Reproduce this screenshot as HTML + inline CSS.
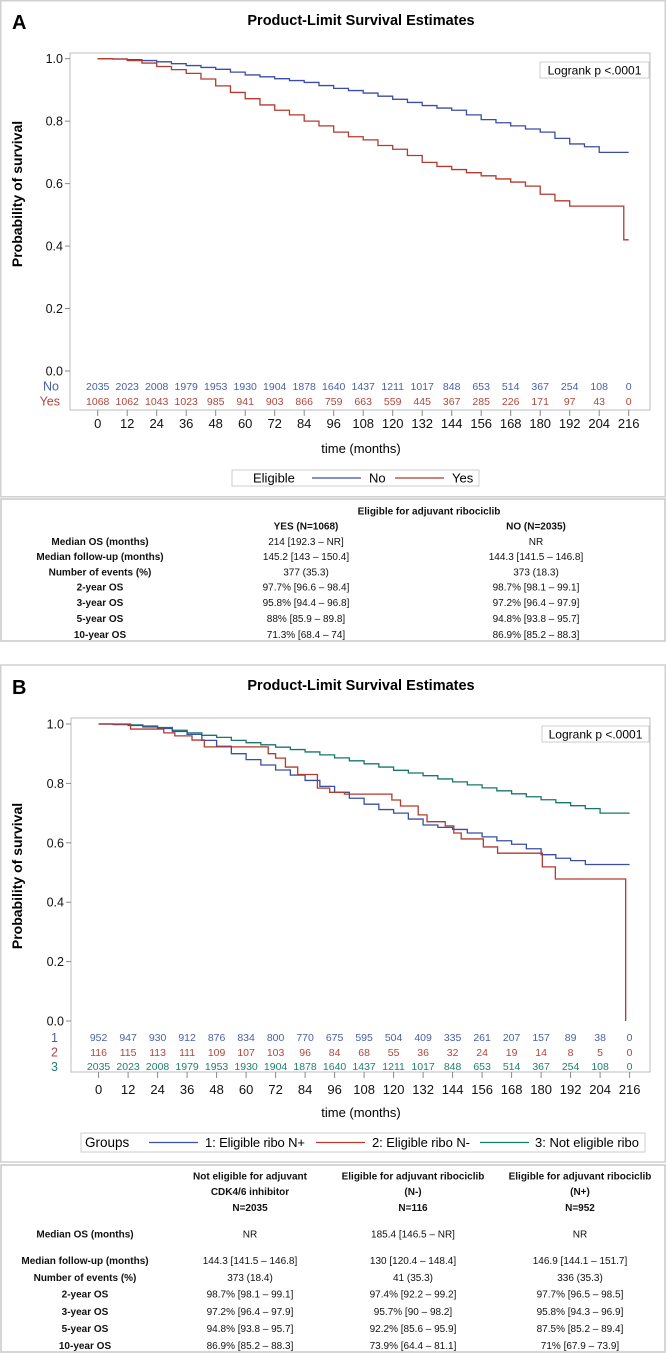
<!DOCTYPE html>
<html><head><meta charset="utf-8">
<style>
html,body{margin:0;padding:0;background:#fff;}
#page{position:relative;width:666px;height:1353px;overflow:hidden;}
svg text{font-family:"Liberation Sans",Arial,sans-serif;}
.tb{font-size:10px;fill:#111;}
.b{font-weight:bold;}
</style></head>
<body>
<div id="page">
<svg id="svg" width="666" height="1353" viewBox="0 0 666 1353" xmlns="http://www.w3.org/2000/svg">
  <rect x="0.75" y="0.75" width="664.5" height="496" fill="none" stroke="#d0d0d0" stroke-width="1.5"/>
  <rect x="1" y="499" width="664" height="142" fill="none" stroke="#c8c8c8" stroke-width="1.5"/>
  <rect x="0.75" y="665" width="664.5" height="497" fill="none" stroke="#d0d0d0" stroke-width="1.5"/>
  <rect x="1" y="1165" width="664" height="187" fill="none" stroke="#c8c8c8" stroke-width="1.5"/>

  <text x="12" y="29" font-size="20" font-weight="bold">A</text>
  <text x="361" y="25" font-size="14.5" font-weight="bold" text-anchor="middle">Product-Limit Survival Estimates</text>
  <text transform="translate(22,194) rotate(-90)" font-size="14" font-weight="bold" text-anchor="middle">Probability of survival</text>
  <text x="361" y="453" font-size="13" text-anchor="middle">time (months)</text>
  <rect x="540" y="62" width="109" height="16" fill="#fff" stroke="#ccc"/>
  <text x="594.5" y="74.5" font-size="12" text-anchor="middle">Logrank p &lt;.0001</text>
  <g>
    <rect x="232" y="470" width="247" height="16" fill="#fff" stroke="#ccc"/>
    <text x="253" y="482.5" font-size="13">Eligible</text>
    <line x1="312" y1="478" x2="361" y2="478" stroke="#3a4ea5" stroke-width="1.2"/>
    <text x="369" y="482.5" font-size="13">No</text>
    <line x1="395" y1="478" x2="444" y2="478" stroke="#b23a2f" stroke-width="1.2"/>
    <text x="452" y="482.5" font-size="13">Yes</text>
  </g>
  <text x="59" y="390.5" font-size="12.5" fill="#4a5fa8" text-anchor="end">No</text>
  <text x="60" y="405.5" font-size="12.5" fill="#b0463c" text-anchor="end">Yes</text>

  <g class="tb">
    <text x="429" y="514.5" text-anchor="middle" class="b">Eligible for adjuvant ribociclib</text>
    <text x="306" y="529.5" text-anchor="middle" class="b">YES (N=1068)</text>
    <text x="536" y="529.5" text-anchor="middle" class="b">NO (N=2035)</text>
    <g text-anchor="middle" class="b">
      <text x="100" y="545">Median OS (months)</text>
      <text x="100" y="560">Median follow-up (months)</text>
      <text x="100" y="575.5">Number of events (%)</text>
      <text x="100" y="590.5">2-year OS</text>
      <text x="100" y="606">3-year OS</text>
      <text x="100" y="622">5-year OS</text>
      <text x="100" y="638">10-year OS</text>
    </g>
    <g text-anchor="middle">
      <text x="306" y="545">214 [192.3 – NR]</text>
      <text x="306" y="560">145.2 [143 – 150.4]</text>
      <text x="306" y="575.5">377 (35.3)</text>
      <text x="306" y="590.5">97.7% [96.6 – 98.4]</text>
      <text x="306" y="606">95.8% [94.4 – 96.8]</text>
      <text x="306" y="622">88% [85.9 – 89.8]</text>
      <text x="306" y="638">71.3% [68.4 – 74]</text>
      <text x="536" y="545">NR</text>
      <text x="536" y="560">144.3 [141.5 – 146.8]</text>
      <text x="536" y="575.5">373 (18.3)</text>
      <text x="536" y="590.5">98.7% [98.1 – 99.1]</text>
      <text x="536" y="606">97.2% [96.4 – 97.9]</text>
      <text x="536" y="622">94.8% [93.8 – 95.7]</text>
      <text x="536" y="638">86.9% [85.2 – 88.3]</text>
    </g>
  </g>

  <text x="12" y="694" font-size="20" font-weight="bold">B</text>
  <text x="361" y="690" font-size="14.5" font-weight="bold" text-anchor="middle">Product-Limit Survival Estimates</text>
  <text transform="translate(22,876) rotate(-90)" font-size="14" font-weight="bold" text-anchor="middle">Probability of survival</text>
  <text x="361" y="1117" font-size="13" text-anchor="middle">time (months)</text>
  <rect x="542" y="726" width="107" height="16" fill="#fff" stroke="#ccc"/>
  <text x="595.5" y="738.5" font-size="12" text-anchor="middle">Logrank p &lt;.0001</text>
  <g>
    <rect x="81" y="1133" width="564" height="19" fill="#fff" stroke="#ccc"/>
    <text x="85" y="1147" font-size="13.5">Groups</text>
    <line x1="149" y1="1142.5" x2="198" y2="1142.5" stroke="#3a4ea5" stroke-width="1.2"/>
    <text x="205" y="1147" font-size="13" textLength="100">1: Eligible ribo N+</text>
    <line x1="316" y1="1142.5" x2="365" y2="1142.5" stroke="#b23a2f" stroke-width="1.2"/>
    <text x="372" y="1147" font-size="13" textLength="98">2: Eligible ribo N-</text>
    <line x1="480" y1="1142.5" x2="529" y2="1142.5" stroke="#16786b" stroke-width="1.2"/>
    <text x="535" y="1147" font-size="13" textLength="104">3: Not eligible ribo</text>
  </g>
  <text x="58" y="1042" font-size="12.5" fill="#4a5fa8" text-anchor="end">1</text>
  <text x="58" y="1056.5" font-size="12.5" fill="#b0463c" text-anchor="end">2</text>
  <text x="58" y="1071" font-size="12.5" fill="#1f8070" text-anchor="end">3</text>

  <g class="tb">
    <g text-anchor="middle" class="b">
      <text x="250" y="1179.5">Not eligible for adjuvant</text>
      <text x="250" y="1195">CDK4/6 inhibitor</text>
      <text x="250" y="1211">N=2035</text>
      <text x="413" y="1179.5">Eligible for adjuvant ribociclib</text>
      <text x="413" y="1195">(N-)</text>
      <text x="413" y="1211">N=116</text>
      <text x="580" y="1179.5">Eligible for adjuvant ribociclib</text>
      <text x="580" y="1195">(N+)</text>
      <text x="580" y="1211">N=952</text>
      <text x="85" y="1237.5">Median OS (months)</text>
      <text x="85" y="1264">Median follow-up (months)</text>
      <text x="85" y="1281">Number of events (%)</text>
      <text x="85" y="1297.5">2-year OS</text>
      <text x="85" y="1315">3-year OS</text>
      <text x="85" y="1332">5-year OS</text>
      <text x="85" y="1349">10-year OS</text>
    </g>
    <g text-anchor="middle">
      <text x="250" y="1237.5">NR</text>
      <text x="250" y="1264">144.3 [141.5 – 146.8]</text>
      <text x="250" y="1281">373 (18.4)</text>
      <text x="250" y="1297.5">98.7% [98.1 – 99.1]</text>
      <text x="250" y="1315">97.2% [96.4 – 97.9]</text>
      <text x="250" y="1332">94.8% [93.8 – 95.7]</text>
      <text x="250" y="1349">86.9% [85.2 – 88.3]</text>
      <text x="413" y="1237.5">185.4 [146.5 – NR]</text>
      <text x="413" y="1264">130 [120.4 – 148.4]</text>
      <text x="413" y="1281">41 (35.3)</text>
      <text x="413" y="1297.5">97.4% [92.2 – 99.2]</text>
      <text x="413" y="1315">95.7% [90 – 98.2]</text>
      <text x="413" y="1332">92.2% [85.6 – 95.9]</text>
      <text x="413" y="1349">73.9% [64.4 – 81.1]</text>
      <text x="580" y="1237.5">NR</text>
      <text x="580" y="1264">146.9 [144.1 – 151.7]</text>
      <text x="580" y="1281">336 (35.3)</text>
      <text x="580" y="1297.5">97.7% [96.5 – 98.5]</text>
      <text x="580" y="1315">95.8% [94.3 – 96.9]</text>
      <text x="580" y="1332">87.5% [85.2 – 89.4]</text>
      <text x="580" y="1349">71% [67.9 – 73.9]</text>
    </g>
  </g>
  <g id="chartA"></g>
  <g id="chartB"></g>
</svg>
</div>
<script>
const xTicks = [0,12,24,36,48,60,72,84,96,108,120,132,144,156,168,180,192,204,216];
const yTicks = [0,0.2,0.4,0.6,0.8,1.0];
const yTickLabels = ["0.0","0.2","0.4","0.6","0.8","1.0"];
const riskANo  = [2035,2023,2008,1979,1953,1930,1904,1878,1640,1437,1211,1017,848,653,514,367,254,108,0];
const riskAYes = [1068,1062,1043,1023,985,941,903,866,759,663,559,445,367,285,226,171,97,43,0];
const aNoTimes  = [0,6,12,18,24,30,36,42,48,54,60,66,72,78,84,90,96,102,108,114,120,126,132,138,144,150,156,162,168,174,180,186,192,198,204,216];
const aNoSurv   = [1,0.999,0.997,0.994,0.99,0.984,0.978,0.972,0.966,0.957,0.948,0.942,0.936,0.93,0.924,0.914,0.905,0.898,0.89,0.88,0.87,0.86,0.85,0.842,0.835,0.82,0.805,0.795,0.785,0.775,0.765,0.745,0.727,0.718,0.70,0.70];
const aYesTimes = [0,6,12,18,24,30,36,42,48,54,60,66,72,78,84,90,96,102,108,114,120,126,132,138,144,150,156,162,168,174,180,186,192,214,216];
const aYesSurv  = [1,0.999,0.994,0.986,0.975,0.965,0.953,0.935,0.913,0.892,0.872,0.852,0.835,0.82,0.80,0.785,0.765,0.75,0.74,0.722,0.71,0.69,0.668,0.655,0.645,0.635,0.625,0.615,0.605,0.592,0.566,0.545,0.528,0.42,0.42];
const riskB1 = [952,947,930,912,876,834,800,770,675,595,504,409,335,261,207,157,89,38,0];
const riskB2 = [116,115,113,111,109,107,103,96,84,68,55,36,32,24,19,14,8,5,0];
const riskB3 = [2035,2023,2008,1979,1953,1930,1904,1878,1640,1437,1211,1017,848,653,514,367,254,108,0];
const b1Times = [0,6,12,18,24,30,36,42,48,54,60,66,72,78,84,90,96,102,108,114,120,126,132,138,144,150,156,162,168,174,180,186,192,198,216];
const b1Surv  = [1,0.998,0.995,0.99,0.985,0.975,0.965,0.945,0.925,0.9,0.88,0.862,0.845,0.828,0.81,0.79,0.77,0.75,0.73,0.712,0.70,0.68,0.66,0.652,0.645,0.633,0.62,0.607,0.595,0.58,0.56,0.548,0.54,0.527,0.527];
const b2Times = [0,13,26.5,31,38,43,69,72,76,81,89,94,100,119.3,122.8,130,133.6,141,144.5,147.5,156.5,162.3,180.5,185.8,214.4];
const b2Surv  = [1,0.983,0.97,0.96,0.946,0.923,0.90,0.885,0.855,0.83,0.784,0.77,0.764,0.744,0.724,0.694,0.671,0.657,0.633,0.613,0.586,0.565,0.519,0.478,0];
const b3Times = [0,6,12,18,24,30,36,42,48,54,60,66,72,78,84,90,96,102,108,114,120,126,132,138,144,150,156,162,168,174,180,186,192,198,204,216];
const b3Surv  = [1,0.999,0.997,0.993,0.988,0.979,0.97,0.962,0.955,0.945,0.937,0.93,0.922,0.914,0.906,0.896,0.886,0.876,0.866,0.855,0.844,0.835,0.826,0.815,0.805,0.795,0.785,0.775,0.765,0.755,0.745,0.735,0.725,0.715,0.70,0.70];

const NS = "http://www.w3.org/2000/svg";
function mk(tag, attrs, parent){
  const e = document.createElementNS(NS, tag);
  for (const k in attrs) e.setAttribute(k, attrs[k]);
  parent.appendChild(e);
  return e;
}
function stepPath(times, surv, xf, yf){
  let d = "M" + xf(times[0]).toFixed(2) + " " + yf(surv[0]).toFixed(2);
  for (let i = 1; i < times.length; i++){
    d += " H" + xf(times[i]).toFixed(2) + " V" + yf(surv[i]).toFixed(2);
  }
  return d;
}
function buildChart(g, cfg){
  const xf = t => cfg.x0 + t * (cfg.x1 - cfg.x0) / 216;
  const yf = v => cfg.yZero - v * (cfg.yZero - cfg.yOne);
  const fr = mk("rect", {x:cfg.fx, y:cfg.fy, width:cfg.fw, height:cfg.fh, fill:"none", stroke:"#bdbdbd", "stroke-width":1}, g);
  
  
  yTicks.forEach((v, i) => {
    const tk = mk("line", {x1:cfg.fx-5, x2:cfg.fx, y1:yf(v), y2:yf(v), stroke:"#888"}, g);
    
    
    const lb = mk("text", {x:cfg.fx-7, y:yf(v)+4.5, "font-size":12.5, "text-anchor":"end", fill:"#111"}, g);
    lb.textContent = yTickLabels[i];
    
    
  });
  const fb = cfg.fy + cfg.fh;
  xTicks.forEach(t => {
    const tk = mk("line", {x1:xf(t), x2:xf(t), y1:fb, y2:fb+6, stroke:"#888"}, g);
    
    
    const lb = mk("text", {x:xf(t), y:cfg.xLabY, "font-size":13, "text-anchor":"middle", fill:"#111"}, g);
    lb.textContent = String(t);
    
    
  });
  cfg.risk.forEach(r => {
    r.vals.forEach((n, i) => {
      const tx = mk("text", {x:xf(xTicks[i]), y:r.y, "font-size":10.5, "text-anchor":"middle", fill:r.color}, g);
      tx.textContent = String(n);
      
      
    });
  });
  cfg.series.forEach(s => {
    const p = mk("path", {d:stepPath(s.t, s.s, xf, yf), fill:"none", stroke:s.color, "stroke-width":1.3}, g);
    
    
  });
}

buildChart(document.getElementById("chartA"), {
  x0:97.7, x1:628.7, yZero:371, yOne:58.7,
  fx:70, fy:53, fw:580, fh:357, xLabY:428,
  risk:[{vals:riskANo, y:390, color:"#4a5fa8"},{vals:riskAYes, y:405, color:"#b0463c"}],
  series:[{t:aNoTimes, s:aNoSurv, color:"#3a4ea5", name:"curve-not-eligible"},
          {t:aYesTimes, s:aYesSurv, color:"#b23a2f", name:"curve-eligible"}]
});
buildChart(document.getElementById("chartB"), {
  x0:98.6, x1:629.6, yZero:1021, yOne:724,
  fx:71, fy:718, fw:579, fh:354, xLabY:1094,
  risk:[{vals:riskB1, y:1041, color:"#4a5fa8"},{vals:riskB2, y:1056, color:"#b0463c"},{vals:riskB3, y:1070, color:"#1f8070"}],
  series:[{t:b3Times, s:b3Surv, color:"#16786b", name:"curve-group-3"},
          {t:b1Times, s:b1Surv, color:"#3a4ea5", name:"curve-group-1"},
          {t:b2Times, s:b2Surv, color:"#b23a2f", name:"curve-group-2"}]
});
</script>
</body></html>
